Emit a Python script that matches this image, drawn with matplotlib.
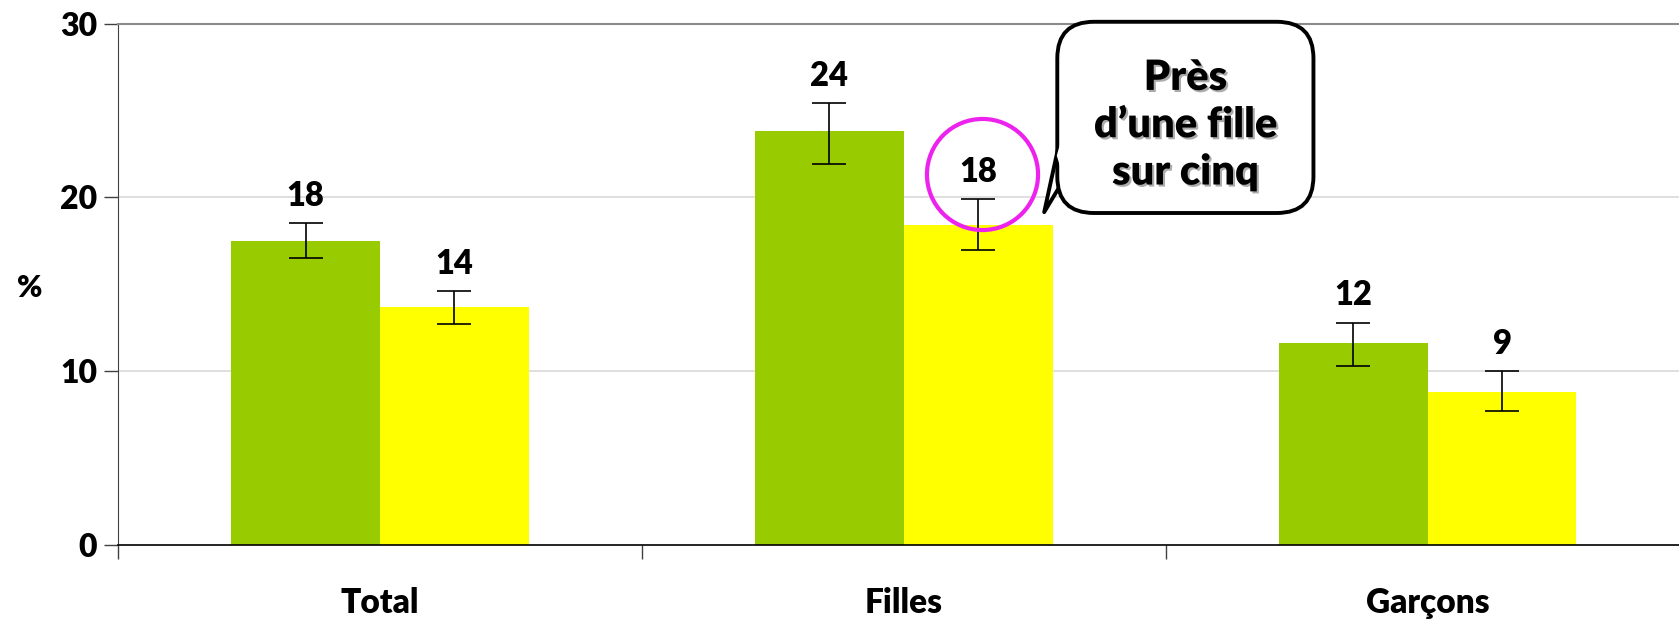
import matplotlib
matplotlib.use('Agg')
import matplotlib.pyplot as plt
import matplotlib.patheffects as pe
from matplotlib.patches import FancyBboxPatch, Polygon
import numpy as np

plt.rcParams['font.family'] = ['Lato', 'DejaVu Sans']
plt.rcParams['font.weight'] = 'bold'

# data
categories = ['Total', 'Filles', 'Garçons']
green_vals = [17.5, 23.8, 11.6]
green_lo = [16.5, 21.9, 10.3]
green_hi = [18.5, 25.4, 12.8]
yellow_vals = [13.7, 18.4, 8.8]
yellow_lo = [12.7, 17.0, 7.7]
yellow_hi = [14.6, 19.9, 10.0]
green_labels = ['18', '24', '12']
yellow_labels = ['14', '18', '9']
yticks = [0, 10, 20, 30]

GREEN = '#99CC00'
YELLOW = '#FFFF00'
WEIGHT = 'heavy'
width = 0.284

fig = plt.figure(figsize=(16.79, 6.19), dpi=100)
ax = fig.add_axes([0.0703, 0.1195, 0.936, 0.8425])

x = np.arange(len(categories))
gv = np.array(green_vals)
yv = np.array(yellow_vals)
gerr = [gv - np.array(green_lo), np.array(green_hi) - gv]
yerr = [yv - np.array(yellow_lo), np.array(yellow_hi) - yv]

ax.bar(x - width / 2, gv, width, color=GREEN, zorder=2)
ax.bar(x + width / 2, yv, width, color=YELLOW, zorder=2)
ax.errorbar(x - width / 2, gv, yerr=gerr, fmt='none', ecolor='black',
            elinewidth=1.2, capsize=12, capthick=1.2, zorder=3)
ax.errorbar(x + width / 2, yv, yerr=yerr, fmt='none', ecolor='black',
            elinewidth=1.2, capsize=12, capthick=1.2, zorder=3)

for xi, top, lab in zip(x - width / 2, green_hi, green_labels):
    ax.annotate(lab, (xi, top), xytext=(0, 8), textcoords='offset points',
                ha='center', va='bottom', fontsize=23.5, fontweight=WEIGHT)
for xi, top, lab in zip(x + width / 2, yellow_hi, yellow_labels):
    ax.annotate(lab, (xi, top), xytext=(0, 8), textcoords='offset points',
                ha='center', va='bottom', fontsize=23.5, fontweight=WEIGHT)

ax.set_xlim(-0.5, 2.5)
ax.set_ylim(0, 30)
ax.set_yticks(yticks)
ax.set_yticklabels([str(v) for v in yticks], fontsize=23, fontweight=WEIGHT)
ax.tick_params(axis='y', length=10, width=1, pad=5, color='#404040')

ax.set_xticks(x)
ax.set_xticklabels(categories, fontsize=24, fontweight=WEIGHT)
ax.set_xticks([-0.5, 0.5, 1.5, 2.5], minor=True)
ax.tick_params(axis='x', which='major', length=0, pad=30)
ax.tick_params(axis='x', which='minor', length=10, width=1, color='#404040')

for v in yticks[1:-1]:
    ax.axhline(v, color='#D9D9D9', lw=1.2, zorder=1)
ax.spines['top'].set_color('#8C8C8C')
ax.spines['top'].set_linewidth(1.5)
ax.spines['right'].set_visible(False)
ax.spines['left'].set_color('#404040')
ax.spines['bottom'].set_color('black')
ax.spines['bottom'].set_linewidth(1.2)

fig.text(0.01, 0.535, '%', fontsize=22, fontweight=WEIGHT, ha='left', va='center')

# magenta circle around the Filles yellow label
ax.plot(1 + width / 2 + 0.008, 21.35, marker='o', markersize=80, markerfacecolor='none',
        markeredgecolor='#EE22EE', markeredgewidth=3.0, zorder=5, clip_on=False)

# speech bubble
bx0, bx1 = 1.293, 1.782
by0, by1 = 19.1, 30.1
tail = Polygon([[bx0 + 0.01, 24.0], [1.268, 19.15], [bx0 + 0.01, 20.9]],
               closed=True, facecolor='white', edgecolor='black', lw=2.8,
               zorder=6, joinstyle='round')
ax.add_patch(tail)
box = FancyBboxPatch((bx0, by0), bx1 - bx0, by1 - by0,
                     boxstyle='round,pad=0,rounding_size=0.07',
                     mutation_aspect=30, facecolor='white', edgecolor='black',
                     lw=2.8, zorder=7, clip_on=False)
ax.add_patch(box)
# cover the joint between tail and box
ax.add_patch(Polygon([[bx0 + 0.012, 23.8], [bx0 - 0.001, 22.4], [bx0 + 0.012, 21.1]],
                     closed=True, facecolor='white', edgecolor='none', zorder=8))
ax.text((bx0 + bx1) / 2, 24.15, 'Près\nd\u2019une fille\nsur cinq',
        ha='center', va='center', fontsize=30, fontweight=WEIGHT, linespacing=1.3,
        zorder=9,
        path_effects=[pe.SimplePatchShadow(offset=(1.5, -1.5), shadow_rgbFace='#888888', alpha=0.7),
                      pe.Normal()])

fig.savefig('out.png', dpi=100)
